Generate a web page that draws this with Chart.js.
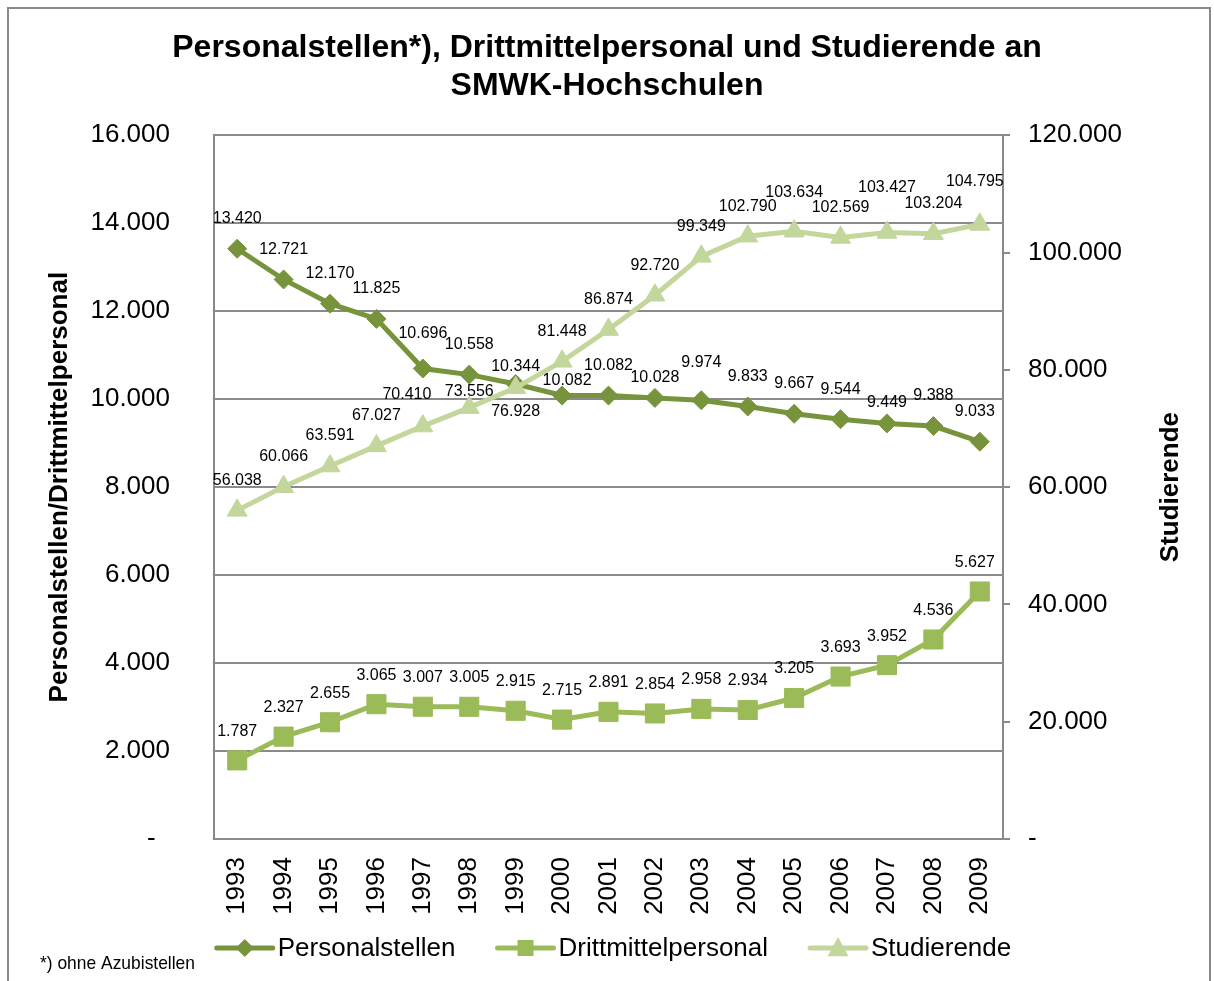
<!DOCTYPE html>
<html>
<head>
  <meta charset="utf-8">
  <title>Personalstellen, Drittmittelpersonal und Studierende an SMWK-Hochschulen</title>
  <script src="https://cdn.jsdelivr.net/npm/chart.js"></script>
  <style>
    html, body {
      margin: 0;
      padding: 0;
      background: #ffffff;
      overflow: hidden;
    }
    .wrap {
      position: relative;
      width: 1214px;
      height: 981px;
      overflow: hidden;
    }
    .frame {
      position: absolute;
      left: 7px;
      top: 7px;
      width: 1200px;
      height: 1000px;
      border: 2px solid #8a8a8a;
    }
    canvas {
      position: absolute;
      left: 0;
      top: 0;
    }
  </style>
</head>
<body>
  <div class="wrap">
    <div class="frame"></div>
    <canvas id="chart" width="1214" height="981"></canvas>
  </div>

  <script>
    // data
    const years = ['1993', '1994', '1995', '1996', '1997', '1998', '1999', '2000', '2001',
                   '2002', '2003', '2004', '2005', '2006', '2007', '2008', '2009'];
    const personalstellen = [13420, 12721, 12170, 11825, 10696, 10558, 10344, 10082, 10082,
                             10028, 9974, 9833, 9667, 9544, 9449, 9388, 9033];
    const drittmittelpersonal = [1787, 2327, 2655, 3065, 3007, 3005, 2915, 2715, 2891,
                                 2854, 2958, 2934, 3205, 3693, 3952, 4536, 5627];
    const studierende = [56038, 60066, 63591, 67027, 70410, 73556, 76928, 81448, 86874,
                         92720, 99349, 102790, 103634, 102569, 103427, 103204, 104795];

    const titleLines = ['Personalstellen*), Drittmittelpersonal und Studierende an', 'SMWK-Hochschulen'];
    const leftTitle = 'Personalstellen/Drittmittelpersonal';
    const rightTitle = 'Studierende';
    const footnote = '*) ohne Azubistellen';

    const FONT = '"Liberation Sans", Arial, sans-serif';
    const GRID = '#8a8a8a';
    const colors = ['#77933C', '#9BBB59', '#C3D69B'];

    function fmt(v) {
      if (v === 0) return '-';
      return String(v).replace(/\B(?=(\d{3})+(?!\d))/g, '.');
    }

    // label shifts [dx, dy] per dataset and point (hand placed in the original)
    const labelShift = [
      { 4: [0, -35], 6: [0, -17], 7: [5, -15], 9: [0, -20], 10: [0, -38], 14: [0, -21], 16: [-5, -30] },
      { 16: [-5, -29] },
      { 4: [-16, -31], 5: [0, -16], 6: [0, 24], 12: [0, -39], 14: [0, -45], 16: [-5, -43] }
    ];
    const defaultShift = [-30, -29, -30];

    const valueLabels = {
      id: 'valueLabels',
      afterDatasetsDraw(chart) {
        const ctx = chart.ctx;
        ctx.save();
        ctx.font = '16px ' + FONT;
        ctx.fillStyle = '#000';
        ctx.textAlign = 'center';
        ctx.textBaseline = 'middle';
        chart.data.datasets.forEach((ds, di) => {
          chart.getDatasetMeta(di).data.forEach((pt, i) => {
            const s = labelShift[di][i] || [0, defaultShift[di]];
            ctx.fillText(fmt(ds.data[i]), pt.x + s[0], pt.y + s[1]);
          });
        });
        ctx.restore();
      }
    };

    function drawMarker(ctx, style, x, y, r, color) {
      ctx.fillStyle = color;
      ctx.beginPath();
      if (style === 'rectRot') {
        ctx.moveTo(x, y - r);
        ctx.lineTo(x + r, y);
        ctx.lineTo(x, y + r);
        ctx.lineTo(x - r, y);
      } else if (style === 'rect') {
        ctx.rect(x - r, y - r, 2 * r, 2 * r);
      } else {
        ctx.moveTo(x, y - r);
        ctx.lineTo(x + r * 0.95, y + r * 0.75);
        ctx.lineTo(x - r * 0.95, y + r * 0.75);
      }
      ctx.closePath();
      ctx.fill();
    }

    // axis titles, legend and footnote
    const extras = {
      id: 'extras',
      afterDraw(chart) {
        const ctx = chart.ctx;
        const area = chart.chartArea;
        const midY = (area.top + area.bottom) / 2;
        ctx.save();
        ctx.fillStyle = '#000';
        ctx.textAlign = 'center';
        ctx.textBaseline = 'middle';
        ctx.font = 'bold 26px ' + FONT;
        [[60, leftTitle], [1171, rightTitle]].forEach(([x, t]) => {
          ctx.save();
          ctx.translate(x, midY);
          ctx.rotate(-Math.PI / 2);
          ctx.fillText(t, 0, 0);
          ctx.restore();
        });

        // legend
        ctx.font = '26px ' + FONT;
        ctx.textAlign = 'left';
        const lineLen = 60, gap = 3, itemGap = 40;
        const sizes = [9, 8, 11];
        const items = chart.data.datasets.map(ds => ({
          ds, w: lineLen + gap + ctx.measureText(ds.label).width
        }));
        const total = items.reduce((a, it) => a + it.w, 0) + itemGap * (items.length - 1);
        let x = chart.width / 2 + 6 - total / 2;
        const ly = 948;
        items.forEach((it, i) => {
          ctx.strokeStyle = it.ds.borderColor;
          ctx.lineWidth = 5;
          ctx.lineCap = 'round';
          ctx.beginPath();
          ctx.moveTo(x + 2, ly);
          ctx.lineTo(x + lineLen - 2, ly);
          ctx.stroke();
          drawMarker(ctx, it.ds.pointStyle, x + lineLen / 2, ly, sizes[i], it.ds.borderColor);
          ctx.fillStyle = '#000';
          ctx.fillText(it.ds.label, x + lineLen + gap, ly + 1);
          x += it.w + itemGap;
        });

        // footnote, narrow
        ctx.font = '19px ' + FONT;
        const fw = ctx.measureText(footnote).width;
        ctx.translate(40, 964);
        ctx.scale(155 / fw, 1);
        ctx.fillText(footnote, 0, 0);
        ctx.restore();
      }
    };

    const ctx = document.getElementById('chart').getContext('2d');
    const chart = new Chart(ctx, {
      type: 'line',
      data: {
        labels: years,
        datasets: [
          {
            label: 'Personalstellen',
            data: personalstellen,
            yAxisID: 'y',
            borderColor: colors[0],
            backgroundColor: colors[0],
            pointBorderColor: colors[0],
            borderWidth: 5,
            pointStyle: 'rectRot',
            pointRadius: 9.5,
            pointBorderWidth: 1,
            tension: 0,
            order: 2
          },
          {
            label: 'Drittmittelpersonal',
            data: drittmittelpersonal,
            yAxisID: 'y',
            borderColor: colors[1],
            backgroundColor: colors[1],
            pointBorderColor: colors[1],
            borderWidth: 5,
            pointStyle: 'rect',
            pointRadius: 13.5,
            pointBorderWidth: 1,
            tension: 0,
            order: 1
          },
          {
            label: 'Studierende',
            data: studierende,
            yAxisID: 'y1',
            borderColor: colors[2],
            backgroundColor: colors[2],
            pointBorderColor: colors[2],
            borderWidth: 5,
            pointStyle: 'triangle',
            pointRadius: 11.5,
            pointBorderWidth: 1,
            tension: 0,
            order: 0
          }
        ]
      },
      options: {
        responsive: false,
        animation: false,
        events: [],
        layout: { padding: { top: 0, left: 0, right: 0, bottom: 60 } },
        plugins: {
          legend: { display: false },
          tooltip: { enabled: false },
          title: {
            display: true,
            text: titleLines,
            color: '#000',
            font: { family: FONT, size: 32, weight: 'bold', lineHeight: 1.16 },
            padding: { top: 30, bottom: 31 }
          }
        },
        scales: {
          x: {
            offset: true,
            grid: { display: false },
            border: { display: true, color: GRID, width: 2 },
            ticks: {
              minRotation: 90,
              maxRotation: 90,
              padding: 10,
              color: '#000',
              font: { family: FONT, size: 26 }
            },
            afterFit: s => { s.height = 82; }
          },
          y: {
            position: 'left',
            min: 0,
            max: 16000,
            grid: { color: GRID, lineWidth: 2, drawTicks: false },
            border: { display: true, color: GRID, width: 2 },
            ticks: {
              stepSize: 2000,
              padding: 44,
              color: '#000',
              font: { family: FONT, size: 26 },
              callback: v => v === 0 ? '-  ' : fmt(v)
            },
            afterFit: s => { s.width = 214; }
          },
          y1: {
            position: 'right',
            min: 0,
            max: 120000,
            grid: { drawOnChartArea: false, color: GRID, lineWidth: 2, tickLength: 7 },
            border: { display: true, color: GRID, width: 2 },
            ticks: {
              stepSize: 20000,
              padding: 18,
              color: '#000',
              font: { family: FONT, size: 26 },
              callback: v => fmt(v)
            },
            afterFit: s => { s.width = 211; }
          }
        }
      },
      plugins: [valueLabels, extras]
    });
  </script>
</body>
</html>
